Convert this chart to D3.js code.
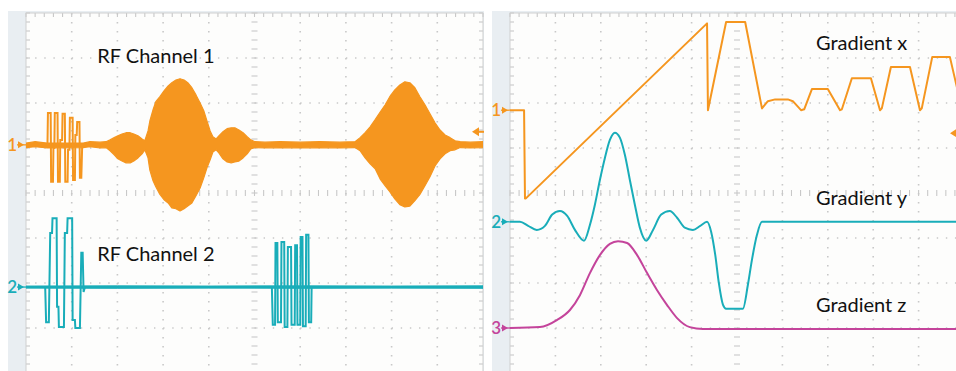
<!DOCTYPE html>
<html><head><meta charset="utf-8">
<script src="https://cdn.jsdelivr.net/npm/d3@7"></script>
<style>
html,body{margin:0;padding:0;background:#fff;overflow:hidden;}
svg{display:block;}
</style></head>
<body><svg id="c" width="956" height="371"></svg>
<script>
// ---------- DATA (time in divisions, amplitude in divisions) ----------
// Left scope: RF channel 1 envelope (upper / lower half-amplitudes)
const rf1EnvT  = [0,0.2,0.46,1.25,1.40,1.62,1.75,1.84,1.93,2.01,2.10,2.19,2.28,2.36,2.45,2.54,2.60,2.67,2.71,2.78,2.84,2.93,3.02,3.11,3.19,3.28,3.37,3.46,3.54,3.63,3.72,3.81,3.89,3.96,4.03,4.09,4.16,4.22,4.31,4.40,4.49,4.57,4.66,4.75,4.84,4.92,5.01,5.23,5.56,6.00,6.43,6.87,7.20,7.31,7.42,7.53,7.64,7.75,7.86,7.96,8.07,8.18,8.29,8.40,8.51,8.62,8.73,8.84,8.95,9.06,9.17,9.28,9.39,9.50,9.72,10.0];
const rf1EnvHi = [0.04,0.07,0.04,0.04,0.07,0.06,0.07,0.11,0.16,0.2,0.24,0.27,0.27,0.24,0.2,0.13,0.09,0.31,0.53,0.78,0.96,1.07,1.2,1.31,1.38,1.44,1.47,1.44,1.38,1.27,1.11,0.93,0.76,0.53,0.31,0.18,0.13,0.2,0.29,0.36,0.38,0.38,0.33,0.27,0.18,0.11,0.07,0.06,0.07,0.06,0.07,0.06,0.07,0.16,0.27,0.4,0.56,0.73,0.89,1.07,1.22,1.33,1.4,1.38,1.27,1.07,0.89,0.69,0.49,0.33,0.22,0.16,0.09,0.07,0.06,0.07];
const rf1EnvLo = [0.06,0.04,0.07,0.06,0.04,0.07,0.06,0.13,0.22,0.31,0.36,0.4,0.4,0.36,0.29,0.2,0.11,0.29,0.56,0.8,0.93,1.1,1.22,1.29,1.4,1.42,1.47,1.42,1.36,1.29,1.13,0.96,0.73,0.51,0.33,0.16,0.11,0.18,0.31,0.38,0.4,0.38,0.36,0.29,0.2,0.09,0.06,0.07,0.06,0.07,0.06,0.07,0.06,0.13,0.29,0.42,0.53,0.76,0.91,1.04,1.2,1.33,1.38,1.36,1.24,1.1,0.91,0.71,0.47,0.31,0.2,0.13,0.11,0.06,0.07,0.06];
// RF channel 1 hard-pulse train
const rf1PulseT = [0.44,0.47,0.48,0.54,0.55,0.59,0.60,0.62,0.63,0.69,0.70,0.74,0.75,0.79,0.80,0.85,0.86,0.91,0.92,0.95,0.96,1.02,1.03,1.07,1.08,1.11,1.12,1.17,1.18,1.21,1.23,1.27];
const rf1PulseV = [0,0,0.71,0.71,-0.82,-0.82,-0.07,-0.07,0.71,0.71,-0.82,-0.82,0.11,0.11,0.69,0.69,-0.82,-0.82,-0.11,-0.11,0.6,0.6,-0.78,-0.78,0.22,0.22,0.51,0.51,-0.73,-0.73,0,0];
// RF channel 2: baseline noise band and two pulse trains
const rf2NoiseT = [0,2,4,6,8,10];
const rf2NoiseA = [0.025,0.03,0.025,0.03,0.025,0.03];
const rf2PulseAT = [0.42,0.44,0.50,0.53,0.57,0.58,0.67,0.68,0.71,0.72,0.83,0.85,0.90,0.91,1.01,1.02,1.07,1.08,1.18,1.21,1.24,1.26,1.29];
const rf2PulseAV = [0,-0.78,-0.78,1.2,1.2,1.53,1.53,-0.44,-0.44,-0.89,-0.89,1.2,1.2,1.53,1.53,-0.73,-0.73,-0.91,-0.91,0.76,0.76,-0.11,0];
const rf2PulseBT = [5.38,5.40,5.45,5.46,5.50,5.51,5.58,5.59,5.65,5.66,5.72,5.73,5.80,5.81,5.88,5.89,5.93,5.94,6.00,6.01,6.05,6.06,6.12,6.13,6.18,6.19,6.24,6.25,6.28];
const rf2PulseBV = [0,-0.84,-0.84,0.98,0.98,-0.78,-0.78,1.0,1.0,-0.89,-0.89,0.89,0.89,-0.84,-0.84,0.93,0.93,-0.84,-0.84,1.11,1.11,-0.87,-0.87,1.16,1.16,-0.78,-0.78,0,0];
// Right scope: gradients
const gxT = [0,0.31,0.33,0.35,4.34,4.36,4.76,5.18,5.55,5.68,5.84,6.12,6.23,6.41,6.48,6.65,7.00,7.27,7.31,7.53,7.95,8.15,8.19,8.39,8.81,9.03,9.07,9.30,9.69,9.96];
const gxV = [0,0,-1.96,-1.96,1.93,0,1.96,1.96,0.04,0.2,0.24,0.24,0.2,0,0.02,0.47,0.47,0,0.02,0.71,0.71,0,0.04,0.96,0.96,0,0.04,1.18,1.18,0];
const gyT = [0,0.22,0.40,0.59,0.77,0.93,1.10,1.26,1.43,1.63,1.76,1.87,1.98,2.09,2.20,2.31,2.42,2.53,2.64,2.75,2.86,3.00,3.15,3.33,3.52,3.68,3.85,4.03,4.19,4.34,4.43,4.52,4.60,4.69,4.76,5.13,5.24,5.33,5.44,5.55,10];
const gyV = [0,0,-0.09,-0.18,-0.09,0.16,0.24,0.13,-0.18,-0.42,-0.07,0.38,0.93,1.42,1.82,1.98,1.87,1.49,0.93,0.38,-0.13,-0.42,-0.18,0.16,0.24,0.09,-0.13,-0.18,-0.09,0,-0.22,-0.73,-1.36,-1.84,-1.93,-1.93,-1.4,-0.84,-0.29,0,0];
const gzT = [0,0.66,1.04,1.32,1.54,1.76,1.98,2.20,2.38,2.58,2.80,3.02,3.24,3.46,3.68,3.96,4.25,10];
const gzV = [0,0.02,0.18,0.4,0.73,1.22,1.62,1.87,1.93,1.89,1.62,1.22,0.84,0.51,0.22,0.02,-0.02,-0.02];
// channel offsets (divisions) and trigger levels
const leftOffsets  = [1.07, -2.09];
const rightOffsets = [1.84, -0.64, -3.0];
const leftTrigger = 1.36, rightTrigger = 1.33;
const leftLabels  = ["RF Channel 1", "RF Channel 2"];
const rightLabels = ["Gradient x", "Gradient y", "Gradient z"];
const chNames = ["1", "2", "3"];

// ---------- STYLE ----------
const ORANGE = "#f5961f", TEAL = "#19adb9", MAGENTA = "#c4449b";
const GRID = "#c8c8c8";

const svg = d3.select("#c");
const yS = d3.scaleLinear().domain([-4, 4]).range([373, 13]);
const xL = d3.scaleLinear().domain([0, 10]).range([26, 483]);
const xR = d3.scaleLinear().domain([0, 10]).range([510, 964]);

function panel(x, frameX, id) {
  const x0 = x.range()[0], x1 = x.range()[1];
  const g = svg.append("g");
  g.append("rect").attr("x", frameX).attr("y", 11).attr("width", Math.min(x1, 956) - frameX + 1).attr("height", 362)
    .attr("fill", "#e9eef2");
  g.append("rect").attr("x", x0).attr("y", 13).attr("width", x1 - x0).attr("height", 360)
    .attr("fill", "#fdfdfc");
  const dx = (x(1) - x(0)) / 5, dy = (yS(0) - yS(1)) / 5;
  for (let i = 1; i < 10; i++) {
    if (i === 5) continue;
    g.append("line").attr("x1", x(i)).attr("x2", x(i)).attr("y1", 13).attr("y2", 373)
      .attr("stroke", GRID).attr("stroke-width", 1.6).attr("stroke-dasharray", `1.4 ${dy - 1.4}`);
  }
  for (let j = -3; j <= 3; j++) {
    if (j === 0) continue;
    g.append("line").attr("x1", x0).attr("x2", x1).attr("y1", yS(j)).attr("y2", yS(j))
      .attr("stroke", GRID).attr("stroke-width", 1.6).attr("stroke-dasharray", `1.4 ${dx - 1.4}`);
  }
  const tk = g.append("g").attr("stroke", GRID).attr("stroke-width", 1.1);
  for (let k = 0; k <= 50; k++) {
    const xx = x(k / 5);
    tk.append("line").attr("x1", xx).attr("x2", xx).attr("y1", yS(0) - 3).attr("y2", yS(0) + 3);
    tk.append("line").attr("x1", xx).attr("x2", xx).attr("y1", 13).attr("y2", 17);
  }
  for (let k = -20; k <= 20; k++) {
    const yy = yS(k / 5);
    tk.append("line").attr("x1", x(5) - 3).attr("x2", x(5) + 3).attr("y1", yy).attr("y2", yy);
    tk.append("line").attr("x1", x0).attr("x2", x0 + 4).attr("y1", yy).attr("y2", yy);
    tk.append("line").attr("x1", x1 - 4).attr("x2", x1).attr("y1", yy).attr("y2", yy);
  }
  g.append("rect").attr("x", x0).attr("y", 13).attr("width", x1 - x0).attr("height", 360)
    .attr("fill", "none").attr("stroke", "#cfcfcf").attr("stroke-width", 1);
  svg.append("clipPath").attr("id", id).append("rect")
    .attr("x", x0).attr("y", 13).attr("width", x1 - x0).attr("height", 360);
  return svg.append("g").attr("clip-path", `url(#${id})`);
}

function marker(xRight, y, label, color) {
  svg.append("text").attr("x", xRight - 9).attr("y", y + 6).attr("text-anchor", "end")
    .attr("font-family", "Lato, 'Open Sans', sans-serif").attr("font-size", 17).attr("font-weight", 600).attr("fill", color).text(label);
  svg.append("path").attr("d", `M${xRight - 8},${y - 3.5}L${xRight - 2},${y}L${xRight - 8},${y + 3.5}Z`).attr("fill", color);
  svg.append("line").attr("x1", xRight - 9).attr("x2", xRight).attr("y1", y).attr("y2", y).attr("stroke", color).attr("stroke-width", 1.3);
}
function trigger(xTip, y, color) {
  svg.append("path").attr("d", `M${xTip},${y}L${xTip + 7},${y - 4.5}L${xTip + 7},${y + 4.5}Z`).attr("fill", color);
  svg.append("line").attr("x1", xTip + 5).attr("x2", xTip + 12).attr("y1", y).attr("y2", y).attr("stroke", color).attr("stroke-width", 2);
}

// ---------- LEFT PANEL ----------
const gL = panel(xL, 8, "clipL");
const env = d3.zip(rf1EnvT, rf1EnvHi, rf1EnvLo);
gL.append("path").datum(env)
  .attr("d", d3.area().x(d => xL(d[0])).y1(d => yS(leftOffsets[0] + d[1])).y0(d => yS(leftOffsets[0] - d[2])))
  .attr("fill", ORANGE).attr("stroke", ORANGE).attr("stroke-width", 1.2).attr("stroke-linejoin", "round");
gL.append("path").datum(d3.zip(rf1PulseT, rf1PulseV))
  .attr("d", d3.line().x(d => xL(d[0])).y(d => yS(leftOffsets[0] + d[1])))
  .attr("fill", "none").attr("stroke", ORANGE).attr("stroke-width", 2);
gL.append("path").datum(d3.zip(rf2NoiseT, rf2NoiseA))
  .attr("d", d3.area().x(d => xL(d[0])).y1(d => yS(leftOffsets[1] + d[1])).y0(d => yS(leftOffsets[1] - d[1])))
  .attr("fill", TEAL).attr("stroke", TEAL).attr("stroke-width", 0.8);
[[rf2PulseAT, rf2PulseAV], [rf2PulseBT, rf2PulseBV]].forEach(([T, V]) => {
  gL.append("path").datum(d3.zip(T, V))
    .attr("d", d3.line().x(d => xL(d[0])).y(d => yS(leftOffsets[1] + d[1])))
    .attr("fill", "none").attr("stroke", TEAL).attr("stroke-width", 2);
});
marker(xL(0), yS(leftOffsets[0]), chNames[0], ORANGE);
marker(xL(0), yS(leftOffsets[1]), chNames[1], TEAL);
trigger(xL(10) - 11, yS(leftTrigger), ORANGE);

// ---------- RIGHT PANEL ----------
const gR = panel(xR, 492, "clipR");
const series = [[gxT, gxV, ORANGE, d3.curveLinear], [gyT, gyV, TEAL, d3.curveMonotoneX], [gzT, gzV, MAGENTA, d3.curveMonotoneX]];
series.forEach(([T, V, col, curve], i) => {
  gR.append("path").datum(d3.zip(T, V))
    .attr("d", d3.line().curve(curve).x(d => xR(d[0])).y(d => yS(rightOffsets[i] + d[1])))
    .attr("fill", "none").attr("stroke", col).attr("stroke-width", 2).attr("stroke-linejoin", "round");
  marker(xR(0), yS(rightOffsets[i]), chNames[i], col);
});
trigger(950, yS(rightTrigger), ORANGE);

// ---------- LABELS ----------
const font = "Lato, 'Open Sans', sans-serif";
svg.append("text").attr("x", xL(1.56)).attr("y", yS(2.89)).attr("font-family", font).attr("font-size", 20).attr("fill", "#111").text(leftLabels[0]);
svg.append("text").attr("x", xL(1.56)).attr("y", yS(-1.5)).attr("font-family", font).attr("font-size", 20).attr("fill", "#111").text(leftLabels[1]);
svg.append("text").attr("x", xR(6.74)).attr("y", yS(3.18)).attr("font-family", font).attr("font-size", 20).attr("fill", "#111").text(rightLabels[0]);
svg.append("text").attr("x", xR(6.74)).attr("y", yS(-0.27)).attr("font-family", font).attr("font-size", 20).attr("fill", "#111").text(rightLabels[1]);
svg.append("text").attr("x", xR(6.74)).attr("y", yS(-2.64)).attr("font-family", font).attr("font-size", 20).attr("fill", "#111").text(rightLabels[2]);
</script></body></html>
